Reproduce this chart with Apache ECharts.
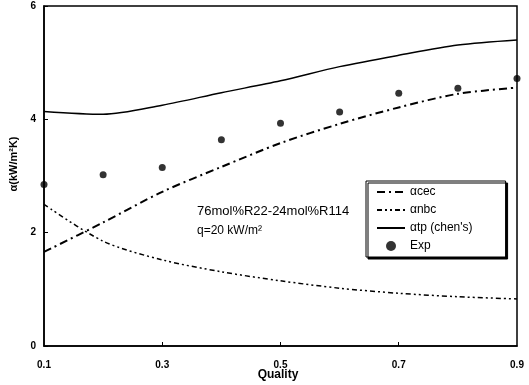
<!DOCTYPE html>
<html>
<head>
<meta charset="utf-8">
<script src="https://cdn.jsdelivr.net/npm/echarts@6/dist/echarts.min.js"></script>
<style>
  html, body { margin: 0; padding: 0; background: #fff; }
  #chart { width: 529px; height: 385px; }
</style>
</head>
<body>
<div id="chart"></div>
<script>
// values
const quality = [0.1, 0.2, 0.3, 0.4, 0.5, 0.6, 0.7, 0.8, 0.9];
const alphaCec = [1.66, 2.18, 2.72, 3.16, 3.58, 3.92, 4.21, 4.45, 4.56];
const alphaNbc = [2.50, 1.85, 1.52, 1.31, 1.15, 1.02, 0.93, 0.87, 0.83];
const alphaTp = [4.14, 4.09, 4.25, 4.47, 4.68, 4.93, 5.13, 5.31, 5.40];
const exp = [2.85, 3.02, 3.15, 3.64, 3.93, 4.13, 4.46, 4.55, 4.72];
const xTickLabels = [0.1, 0.3, 0.5, 0.7, 0.9];

const pairs = ys => quality.map((q, i) => [q, ys[i]]);
const font = 'Liberation Sans, Arial, sans-serif';
const noSymbol = { color: 'transparent', borderWidth: 0 };

const chart = echarts.init(document.getElementById('chart'));

chart.setOption({
    backgroundColor: '#fff',
    animation: false,
    grid: {
        left: 44, right: 12, top: 6, bottom: 39,
        outerBoundsMode: 'none',
        show: true, borderColor: '#000', borderWidth: 1.5
    },
    xAxis: {
        type: 'value',
        min: 0.1,
        max: 0.9,
        axisLine: { show: true, lineStyle: { color: '#000', width: 1.5 } },
        axisTick: { inside: true, length: 4, customValues: [0.3, 0.5, 0.7], lineStyle: { color: '#000' } },
        axisLabel: {
            customValues: xTickLabels,
            color: '#000', fontFamily: font, fontSize: 10, fontWeight: 'bold', margin: 14,
            formatter: v => v.toFixed(1)
        },
        splitLine: { show: false }
    },
    yAxis: {
        type: 'value',
        min: 0,
        max: 6,
        interval: 2,
        name: 'α(kW/m²K)',
        nameLocation: 'middle',
        nameGap: 22,
        nameRotate: 90,
        nameTextStyle: { color: '#000', fontFamily: font, fontSize: 11, fontWeight: 'bold', padding: [0, 0, 0, 24] },
        axisLine: { show: true, lineStyle: { color: '#000', width: 1.5 } },
        axisTick: { inside: true, length: 4, lineStyle: { color: '#000' } },
        axisLabel: { color: '#000', fontFamily: font, fontSize: 10, fontWeight: 'bold', margin: 8 },
        splitLine: { show: false }
    },
    legend: {
        orient: 'vertical',
        left: 366,
        top: 181,
        padding: [5, 33, 5, 10],
        itemGap: 6,
        itemWidth: 28,
        itemHeight: 10,
        backgroundColor: '#fff',
        borderColor: '#000',
        borderWidth: 1,
        shadowColor: '#000',
        shadowBlur: 0,
        shadowOffsetX: 2,
        shadowOffsetY: 2,
        textStyle: { color: '#000', fontFamily: font, fontSize: 12 },
        data: [
            { name: 'αcec', itemStyle: noSymbol },
            { name: 'αnbc', itemStyle: noSymbol },
            { name: 'αtp (chen\'s)', itemStyle: noSymbol },
            { name: 'Exp' }
        ]
    },
    graphic: [
        {
            type: 'text', left: 197, top: 205,
            style: { text: '76mol%R22-24mol%R114', fill: '#000', font: '13px ' + font }
        },
        {
            type: 'text', left: 197, top: 225,
            style: { text: 'q=20 kW/m²', fill: '#000', font: '12px ' + font }
        },
        {
            type: 'text', x: 278, y: 375,
            style: {
                text: 'Quality', fill: '#000', font: 'bold 12px ' + font,
                align: 'center', verticalAlign: 'middle'
            }
        }
    ],
    series: [
        {
            name: 'αcec',
            type: 'line',
            data: pairs(alphaCec),
            smooth: 0.3,
            showSymbol: false,
            symbol: 'none',
            itemStyle: { color: '#000' },
            lineStyle: { color: '#000', width: 2, type: [8, 4, 2, 4] }
        },
        {
            name: 'αnbc',
            type: 'line',
            data: pairs(alphaNbc),
            smooth: 0.3,
            showSymbol: false,
            symbol: 'none',
            itemStyle: { color: '#000' },
            lineStyle: { color: '#000', width: 1.5, type: [5, 3, 2, 3, 2, 3] }
        },
        {
            name: 'αtp (chen\'s)',
            type: 'line',
            data: pairs(alphaTp),
            smooth: 0.3,
            showSymbol: false,
            symbol: 'none',
            itemStyle: { color: '#000' },
            lineStyle: { color: '#000', width: 1.5 }
        },
        {
            name: 'Exp',
            type: 'scatter',
            data: pairs(exp),
            symbol: 'circle',
            symbolSize: 7,
            itemStyle: { color: '#000' }
        }
    ]
});
</script>
</body>
</html>
